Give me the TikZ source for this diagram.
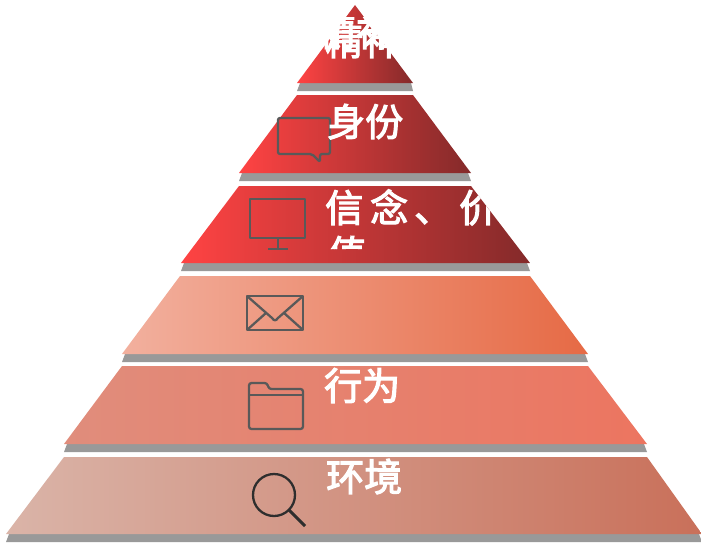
\documentclass[tikz,border=0pt]{standalone}
\usepackage{fontspec}
\newfontfamily\cjk[FakeBold=3]{Noto Sans CJK SC}
\tikzset{
  x=1pt,y=-1pt,
  shadowbar/.style={fill=black!40},
  iconline/.style={draw=black!65,line width=2.3pt,line join=round},
  lbl/.style={font=\cjk\fontsize{38}{41}\selectfont,text=white,inner sep=0pt,anchor=base west},
}
\definecolor{aL}{HTML}{FF4343}\definecolor{aR}{HTML}{842A2A}
\definecolor{bL}{HTML}{F2B09E}\definecolor{bR}{HTML}{E66A45}
\definecolor{cL}{HTML}{E08D7C}\definecolor{cR}{HTML}{EC7560}
\definecolor{dL}{HTML}{DAB4A8}\definecolor{dR}{HTML}{C9705A}
\begin{document}
\begin{tikzpicture}
\useasboundingbox (0,0) rectangle (701,543);
% shadow bars
\fill[shadowbar] (300,83) -- (411,83) -- (413,91) -- (297,91) -- cycle;
\fill[shadowbar] (242,173) -- (468,173) -- (471,181) -- (239,181) -- cycle;
\fill[shadowbar] (184,263) -- (527,263) -- (530,271) -- (181,271) -- cycle;
\fill[shadowbar] (125,354) -- (585,354) -- (588,362) -- (122,362) -- cycle;
\fill[shadowbar] (67,444) -- (644,444) -- (647,452) -- (64,452) -- cycle;
\fill[shadowbar] (9,534) -- (699,534) -- (702,542) -- (6,542) -- cycle;
% tiers
\path[left color=aL,right color=aR] (355,5) -- (413,83) -- (297,83) -- cycle;
\path[left color=aL,right color=aR] (297,95) -- (413,95) -- (471,173) -- (239,173) -- cycle;
\path[left color=aL,right color=aR] (239,186) -- (471,186) -- (530,263) -- (181,263) -- cycle;
\path[left color=bL,right color=bR] (180,276) -- (530,276) -- (588,354) -- (122,354) -- cycle;
\path[left color=cL,right color=cR] (122,366) -- (588,366) -- (647,444) -- (64,444) -- cycle;
\path[left color=dL,right color=dR] (64,457) -- (647,457) -- (702,534) -- (6,534) -- cycle;
% icons
\draw[iconline,rounded corners=2pt] (278,118) -- (330,118) -- (330,154) -- (320,154) -- (320,162) -- (312,154) -- (278,154) -- cycle;
\draw[iconline] (250,199) rectangle (305,238);
\draw[iconline] (278,238) -- (278,249) (268,249) -- (288,249);
\draw[iconline] (247,296) rectangle (303,330);
\draw[iconline] (247,296) -- (272,318) .. controls (274,321) and (276,321) .. (278,318) -- (303,296);
\draw[iconline] (247,330) -- (266,313) (303,330) -- (284,313);
\draw[iconline,rounded corners=2.5pt] (249,395) -- (249,383) -- (267,383) -- (269,389) -- (303,389) -- (303,429) -- (249,429) -- cycle;
\draw[iconline] (249,395) -- (303,395);
\draw[draw=black!82,line width=2.3pt] (274,495) circle (21);
\draw[draw=black!82,line width=3pt] (289,510) -- (305,526);
% labels
\begin{scope}
\clip (300,18) rectangle (400,70);
\node[lbl] (t1a) at (318,46) {精神};
\node[lbl] (t1b) at (325,55) {精神};
\end{scope}
\node[lbl] (t2) at (327,136) {身份};
\begin{scope}
\clip (239,186) -- (471,186) -- (519,249) -- (192,249) -- cycle;
\node[lbl] (t3a) at (325,222) {信};
\node[lbl] (t3c) at (370,222) {念};
\node[lbl] (t3d) at (414,222) {、};
\node[lbl] (t3e) at (459,222) {价};
\node[lbl] (t3b) at (328,268) {值};
\end{scope}
\node[lbl] (t5) at (324,400) {行为};
\node[lbl] (t6) at (326,491) {环境};
\end{tikzpicture}
\end{document}
